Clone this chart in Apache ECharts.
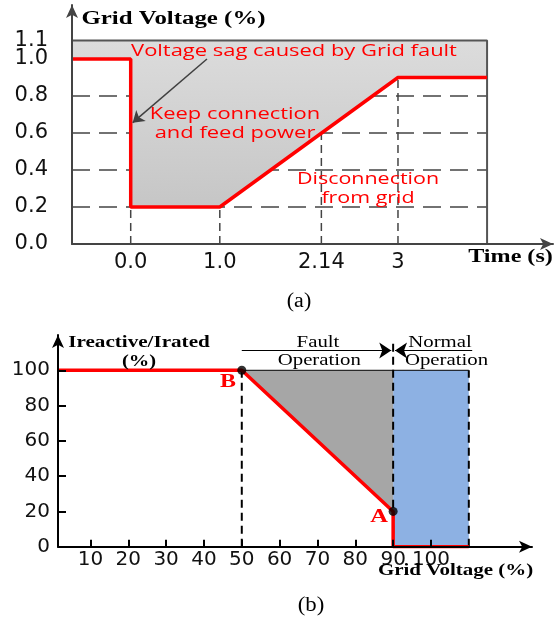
<!DOCTYPE html>
<html>
<head>
<meta charset="utf-8">
<script src="https://cdn.jsdelivr.net/npm/echarts@6/dist/echarts.min.js"></script>
<style>
html,body{margin:0;padding:0;background:#fff;}
#chart{width:555px;height:619px;}
</style>
</head>
<body>
<div id="chart"></div>
<script>
// ---------- (a) LVRT curve ----------
const timeMin = -0.659, timeMax = 4.74, voltAxisMax = 1.292;
const timeTicks = [0, 1, 2.14, 3];
const timeTickLabels = ['0.0', '1.0', '2.14', '3'];
const voltTicks = [0, 0.2, 0.4, 0.6, 0.8, 1.0];
const voltTopTick = [1.1];
const lvrtTime = [-0.659, 0, 0, 1, 3, 4];
const lvrtVolt = [1.0, 1.0, 0.2, 0.2, 0.9, 0.9];
const boxTop = 1.1, boxRight = 4;
const hGridVolt = [0.2, 0.4, 0.6, 0.8];
const vGridTime = [0, 1, 2.14, 3];
const vGridTop = [0.2, 0.2, 0.6, 0.9];
const sagArrowTime = [0.856, 0.022];
const sagArrowVolt = [1.0, 0.656];

// ---------- (b) reactive current curve ----------
const gvMin = 1.43, gvMax = 126.7, iqAxisMax = 120;
const gvTicks = [10, 20, 30, 40, 50, 60, 70, 80, 90, 100];
const iqTicks = [0, 20, 40, 60, 80, 100];
const iqTickMarks = [20, 40, 60, 80, 100];
const curveGv = [1.43, 50, 90, 90, 110];
const curveIq = [100, 100, 20, 0, 0];
const pointB = [50, 100];
const pointA = [90, 20];
const faultZoneGv = [50, 90, 90];
const faultZoneIq = [100, 100, 20];
const normalZoneGv = [90, 110, 110, 90];
const normalZoneIq = [0, 0, 100, 100];
const dashGv = [50, 90, 110];
const dashTop = [100, 115.5, 100];
const opArrowIq = 111.2;
const faultArrowGv = [50, 89.5];
const normalArrowGv = [110.9, 90.5];

const zip = (xs, ys) => xs.map((x, i) => [x, ys[i]]);

const chart = echarts.init(document.getElementById('chart'));

function polygonSeries(xi, yi, pts, fill, z) {
  return {
    type: 'custom', xAxisIndex: xi, yAxisIndex: yi, data: [0], z: z, silent: true,
    renderItem: function (params, api) {
      return {type: 'polygon', shape: {points: pts.map(p => api.coord(p))}, style: {fill: fill}};
    }
  };
}
function lineSeries(xi, yi, data, color, width, type, z) {
  return {
    type: 'line', xAxisIndex: xi, yAxisIndex: yi, data: data, symbol: 'none', silent: true,
    lineStyle: {color: color, width: width, type: type}, z: z, animation: false
  };
}
function arrowSeries(xi, yi, coords, color, width, size, z) {
  return {
    type: 'lines', coordinateSystem: 'cartesian2d', xAxisIndex: xi, yAxisIndex: yi, z: z, silent: true,
    symbol: ['none', 'arrow'], symbolSize: size,
    lineStyle: {color: color, width: width, curveness: 0, opacity: 1},
    data: [{coords: coords}]
  };
}
function txt(t, x, y, font, color, sx) {
  return {type: 'text', x: x, y: y, scaleX: sx, z: 100,
    style: {text: t, font: font, fill: color, align: 'center', verticalAlign: 'middle'}};
}

const series = [];
// (a) dashed grid lines
hGridVolt.forEach(v => series.push(lineSeries(0, 0, [[timeMin, v], [boxRight, v]], '#444', 1.5, [18, 9], 1)));
vGridTime.forEach((t, i) => series.push(lineSeries(0, 0, [[t, 0], [t, vGridTop[i]]], '#444', 1.5, [8, 5], 3)));
// (a) gray fill between curve and 1.1
const fillA = [[timeMin, boxTop], [boxRight, boxTop]].concat(zip(lvrtTime, lvrtVolt).reverse());
series.push(polygonSeries(0, 0, fillA,
  new echarts.graphic.LinearGradient(0, 0, 0, 1, [{offset: 0, color: '#dcdcdc'}, {offset: 1, color: '#c6c6c6'}]), 2));
// (a) frame
series.push(lineSeries(0, 0, [[timeMin, boxTop], [boxRight, boxTop], [boxRight, 0]], '#555', 2, 'solid', 3));
// (a) red curve
series.push(lineSeries(0, 0, zip(lvrtTime, lvrtVolt), '#ff0000', 3.5, 'solid', 5));
// (a) pointer arrow
series.push(arrowSeries(0, 0, zip(sagArrowTime, sagArrowVolt), '#404040', 1.5, 11, 6));

// (b) zones
series.push(polygonSeries(1, 1, zip(normalZoneGv, normalZoneIq), '#8db1e3', 2));
series.push(polygonSeries(1, 1, zip(faultZoneGv, faultZoneIq), '#a6a6a6', 2));
series.push(lineSeries(1, 1, [[50, 100], [110, 100]], '#000', 1, 'solid', 3));
dashGv.forEach((g, i) => series.push(lineSeries(1, 1, [[g, 0], [g, dashTop[i]]], '#000', 2, [8, 5], 4)));
series.push(lineSeries(1, 1, zip(curveGv, curveIq), '#ff0000', 3.5, 'solid', 5));
series.push({type: 'scatter', xAxisIndex: 1, yAxisIndex: 1, data: [pointB, pointA], symbolSize: 9,
  itemStyle: {color: '#000'}, z: 7, silent: true});
series.push(arrowSeries(1, 1, faultArrowGv.map(g => [g, opArrowIq]), '#000', 1, [9, 12], 6));
series.push(arrowSeries(1, 1, normalArrowGv.map(g => [g, opArrowIq]), '#000', 1, [9, 12], 6));

const sansLabel = {fontFamily: 'DejaVu Sans', color: '#111', hideOverlap: false, showMinLabel: true, showMaxLabel: true};

const option = {
  animation: false,
  backgroundColor: '#fff',
  grid: [
    {left: 72, right: 2, top: 5, bottom: 375},
    {left: 58, right: 23, top: 335, bottom: 72.3}
  ],
  xAxis: [
    {type: 'value', gridIndex: 0, min: timeMin, max: timeMax, z: 10,
      axisLine: {show: true, onZero: false, symbol: ['none', 'arrow'], symbolSize: [9, 13],
        lineStyle: {color: '#444', width: 2}},
      axisTick: {show: false}, splitLine: {show: false},
      axisLabel: Object.assign({customValues: timeTicks, fontSize: 21, margin: 8,
        formatter: v => timeTickLabels[timeTicks.indexOf(v)]}, sansLabel)},
    {type: 'value', gridIndex: 1, min: gvMin, max: gvMax, z: 10,
      axisLine: {show: true, onZero: false, symbol: ['none', 'arrow'], symbolSize: [9, 13],
        lineStyle: {color: '#000', width: 2}},
      axisTick: {show: true, inside: true, length: 7, customValues: gvTicks, lineStyle: {color: '#000', width: 2}},
      splitLine: {show: false},
      axisLabel: Object.assign({customValues: gvTicks, fontSize: 20, margin: 3}, sansLabel)}
  ],
  yAxis: [
    {type: 'value', gridIndex: 0, min: 0, max: voltAxisMax, z: 10,
      axisLine: {show: true, onZero: false, symbol: ['none', 'arrow'], symbolSize: [9, 13],
        lineStyle: {color: '#444', width: 2}},
      axisTick: {show: false}, splitLine: {show: false},
      axisLabel: Object.assign({customValues: voltTicks, fontSize: 21, margin: 24,
        formatter: v => v.toFixed(1)}, sansLabel)},
    {type: 'value', gridIndex: 1, min: 0, max: iqAxisMax, z: 10,
      axisLine: {show: true, onZero: false, symbol: ['none', 'arrow'], symbolSize: [9, 13],
        lineStyle: {color: '#000', width: 2}},
      axisTick: {show: true, inside: true, length: 8, customValues: iqTickMarks, lineStyle: {color: '#000', width: 2}},
      splitLine: {show: false},
      axisLabel: Object.assign({customValues: iqTicks, fontSize: 20, margin: 8}, sansLabel)},
    {type: 'value', gridIndex: 0, min: 0, max: voltAxisMax, position: 'left', z: 10,
      axisLine: {show: false}, axisTick: {show: false}, splitLine: {show: false},
      axisLabel: Object.assign({customValues: voltTopTick, fontSize: 21, margin: 24,
        formatter: v => v.toFixed(1)}, sansLabel)}
  ],
  series: series,
  graphic: [
    txt('Grid Voltage (%)', 173.5, 19, 'bold 18px "Liberation Serif"', '#000', 1.38),
    txt('Time (s)', 510.5, 257, 'bold 18px "Liberation Serif"', '#000', 1.34),
    txt('(a)', 299, 301.5, '20px "Liberation Serif"', '#000', 1.1),
    txt('Voltage sag caused by Grid fault', 294, 51, '16px "Open Sans"', '#ff0000', 1.37),
    txt('Keep connection', 235, 114, '16px "Open Sans"', '#ff0000', 1.37),
    txt('and feed power', 235, 133, '16px "Open Sans"', '#ff0000', 1.37),
    txt('Disconnection', 368, 179, '16px "Open Sans"', '#ff0000', 1.34),
    txt('from grid', 368, 198, '16px "Open Sans"', '#ff0000', 1.34),
    txt('Ireactive/Irated', 139, 342.7, 'bold 16px "Liberation Serif"', '#000', 1.32),
    txt('(%)', 139, 361.7, 'bold 16px "Liberation Serif"', '#000', 1.28),
    txt('Fault', 318, 343, '16px "Liberation Serif"', '#000', 1.3),
    txt('Operation', 319.3, 360.7, '16px "Liberation Serif"', '#000', 1.3),
    txt('Normal', 440, 343, '16px "Liberation Serif"', '#000', 1.3),
    txt('Operation', 446.5, 360.7, '16px "Liberation Serif"', '#000', 1.3),
    txt('B', 228, 382.7, 'bold 18px "Liberation Serif"', '#ff0000', 1.33),
    txt('A', 379, 517.7, 'bold 18px "Liberation Serif"', '#ff0000', 1.36),
    txt('Grid Voltage (%)', 455.5, 571, 'bold 16px "Liberation Serif"', '#000', 1.31),
    txt('(b)', 311, 606, '20px "Liberation Serif"', '#000', 1.14)
  ]
};
chart.setOption(option);
</script>
</body>
</html>
